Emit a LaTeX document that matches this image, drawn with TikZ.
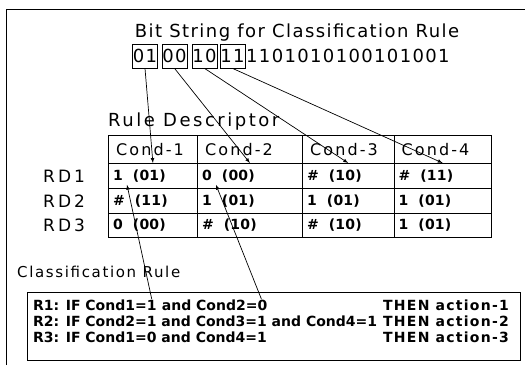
\documentclass[tikz,border=0pt]{standalone}
\usepackage{fontspec}
\setmainfont{DejaVu Sans}
\usetikzlibrary{arrows}
\usetikzlibrary{calc}
\newcommand\spfont[2]{\fontsize{#1}{#1}\selectfont\addfontfeature{LetterSpace=#2}}

\begin{document}
\begin{tikzpicture}[x=1pt,y=-1pt,
    bitbox/.style={draw,line width=0.7pt,inner sep=0pt,minimum width=25pt,minimum height=24pt,font=\spfont{18}{7.5}},
    cell/.style={draw,line width=0.8pt,anchor=north west,inner sep=0pt},
    headtext/.style={anchor=west,inner sep=0pt,font=\spfont{16}{13}},
    celltext/.style={anchor=west,inner sep=0pt,font=\bfseries\spfont{14}{1}},
    ruletext/.style={anchor=base west,inner sep=0pt,font=\bfseries\spfont{14}{0}},
    link/.style={-latex,line width=0.7pt}]
\useasboundingbox (0,0) rectangle (525,365);
\draw[line width=0.8pt] (6,365) -- (6,9) -- (525,9);

% bit string
\node[font=\spfont{18}{8},anchor=base] (title) at (297,37) {Bit String for Classification Rule};
\foreach \name/\bits/\x in {b1/01/145, b2/00/174.5, b3/10/204.5, b4/11/232.5}
  \node[bitbox] (\name) at (\x,56) {\bits};
\node[font=\spfont{18}{7.5},anchor=west,inner sep=0pt] (rest) at (246,56) {1101010100101001};

% rule descriptor table
\node[font=\spfont{18}{14},anchor=base west,inner sep=0pt] (rdtitle) at (108,126) {Rule Descriptor};
\foreach \c/\x/\w in {1/108/89, 2/197/105, 3/302/91.5, 4/393.5/97.5} {
  \foreach \r/\y/\h in {0/135/28, 1/163/25, 2/188/25, 3/213/24}
    \node[cell,minimum width=\w pt,minimum height=\h pt] (c-\r-\c) at (\x,\y) {};
}
\foreach \c in {1,2,3,4}
  \node[headtext] (h-\c) at ($(c-0-\c.west)+(8,0)$) {Cond-\c};
\foreach \r/\row in {1/{{1~~(01)},{0~~(00)},{\#~~(10)},{\#~~(11)}},
                     2/{{\#~~(11)},{1~~(01)},{1~~(01)},{1~~(01)}},
                     3/{{0~~(00)},{\#~~(10)},{\#~~(10)},{1~~(01)}}} {
  \foreach \txt [count=\c] in \row
    \node[celltext] (t-\r-\c) at ($(c-\r-\c.west)+(5,0)$) {\txt};
  \node[font=\spfont{17}{18},anchor=west,inner sep=0pt] (rd\r) at ($(c-\r-1.west)+(-65,0)$) {RD\r};
}
\foreach \b/\c in {b1/1, b2/2, b3/3, b4/4}
  \draw[link] (\b.south) -- (c-1-\c.north);

% classification rules
\node[font=\spfont{15}{11},anchor=base west,inner sep=0pt] (crtitle) at (17,277) {Classification Rule};
\node[draw,line width=1pt,anchor=north west,inner sep=0pt,minimum width=493pt,minimum height=68pt] (rules) at (27,292) {};
\node[ruletext] (r1) at (33,310) {R1: IF Cond1=1};
\node[ruletext] (r1b) at (r1.base east) {~and Cond2=0};
\node[ruletext] (r2) at (33,326) {R2: IF Cond2=1 and Cond3=1 and Cond4=1};
\node[ruletext] (r3) at (33,342) {R3: IF Cond1=0 and Cond4=1};
\foreach \i/\y in {1/310, 2/326, 3/342}
  \node[ruletext,font=\bfseries\spfont{14}{9}] (a\i) at (383,\y) {THEN action-\i};
\draw[link] ([xshift=-5pt]r1.north east) -- ($(c-1-1.south west)+(19,-4)$);
\draw[link] ([xshift=-6pt]r1b.north east) -- ($(c-1-2.south west)+(19,-4)$);
\end{tikzpicture}
\end{document}
